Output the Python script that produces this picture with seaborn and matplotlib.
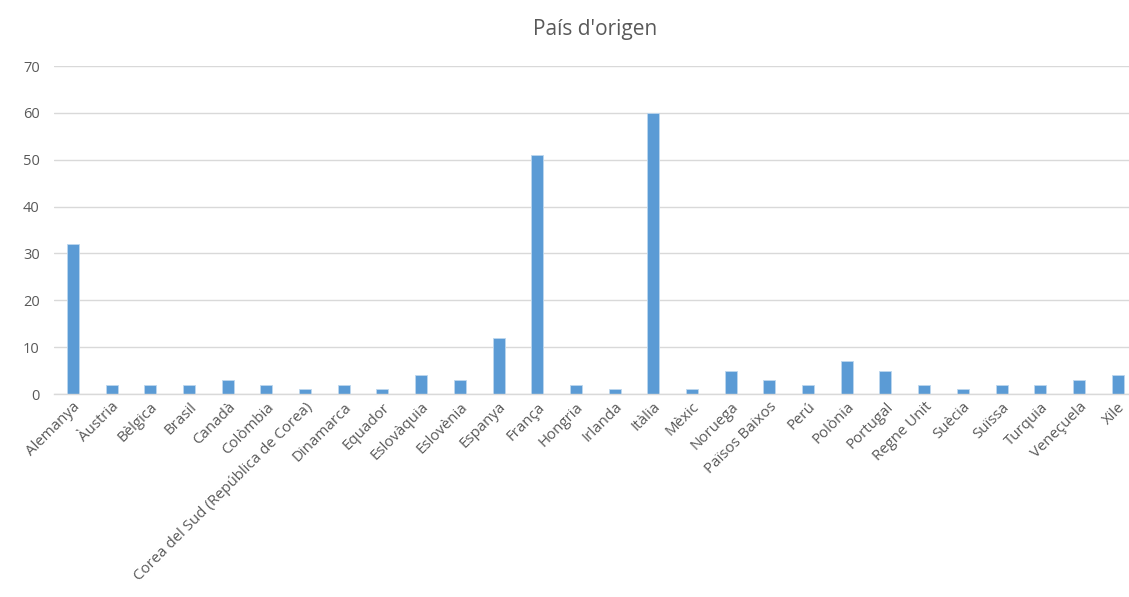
import matplotlib
matplotlib.use("Agg")
import matplotlib.pyplot as plt
import seaborn as sns
import pandas as pd

countries = ["Alemanya", "Àustria", "Bèlgica", "Brasil", "Canadà", "Colòmbia",
             "Corea del Sud (República de Corea)", "Dinamarca", "Equador", "Eslovàquia",
             "Eslovènia", "Espanya", "França", "Hongria", "Irlanda", "Itàlia", "Mèxic",
             "Noruega", "Països Baixos", "Perú", "Polònia", "Portugal", "Regne Unit",
             "Suècia", "Suïssa", "Turquia", "Veneçuela", "Xile"]
values = [32, 2, 2, 2, 3, 2, 1, 2, 1, 4, 3, 12, 51, 2, 1, 60, 1, 5, 3, 2, 7, 5, 2, 1, 2, 2, 3, 4]
yticks = [0, 10, 20, 30, 40, 50, 60, 70]

sns.set_theme(style="white")
plt.rcParams['font.family'] = ['Open Sans', 'DejaVu Sans']

df = pd.DataFrame({"country": countries, "value": values})

W, H = 1129, 597
fig = plt.figure(figsize=(W / 100, H / 100), dpi=100)
left, right, top, bottom = 53.6, 1137, 66, 394
ax = fig.add_axes([left / W, (H - bottom) / H, (right - left) / W, (bottom - top) / H])

sns.barplot(data=df, x="country", y="value", color="#5B9BD5", width=0.31,
            ax=ax, saturation=1, edgecolor="#BDD7EE", linewidth=0.6, zorder=3)

ax.set_ylim(0, 70)
ax.set_xlim(-0.5, len(countries) - 0.5)
ax.set_yticks(yticks)
ax.set_yticklabels([str(t) for t in yticks], fontsize=10.5, color="#595959")
ax.yaxis.grid(True, color="#D9D9D9", linewidth=1, zorder=0)
ax.xaxis.grid(False)
for s in ["top", "right", "left"]:
    ax.spines[s].set_visible(False)
ax.spines["bottom"].set_color("#D9D9D9")
ax.spines["bottom"].set_linewidth(1)
ax.spines["bottom"].set_zorder(4)
ax.tick_params(axis="y", length=0, pad=10)
ax.tick_params(axis="x", length=0, pad=4)
ax.set_xticks(range(len(countries)))
ax.set_xticklabels(countries, rotation=45, ha="right", rotation_mode="anchor",
                   fontsize=10.8, color="#595959")
ax.set_xlabel("")
ax.set_ylabel("")
ax.set_title("País d'origen", fontsize=15, color="#595959", pad=22)

fig.savefig("out.png", dpi=100, facecolor="white")
